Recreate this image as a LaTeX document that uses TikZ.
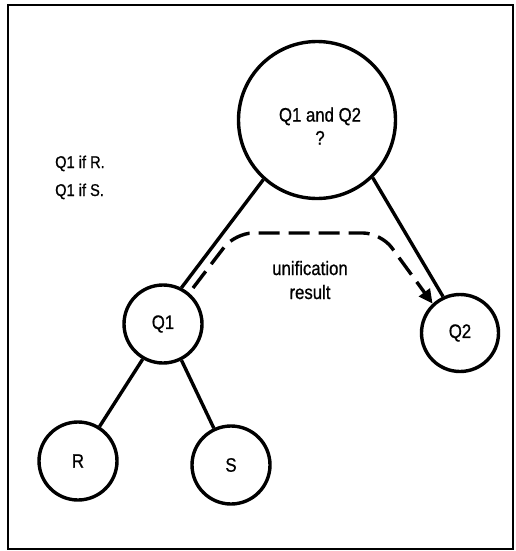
\documentclass[tikz,border=0pt]{standalone}
\usepackage{fontspec}
\setmainfont{Liberation Sans}[FakeStretch=0.86,FakeBold=0.8]
\usetikzlibrary{arrows.meta}
\begin{document}
\begin{tikzpicture}[x=1pt,y=-1pt,
  bubble/.style={circle, draw, line width=3.4pt, inner sep=0pt, minimum size=78pt,
                 font=\fontsize{19.5}{23}\selectfont},
  edge/.style={line width=3.4pt},
  flow/.style={line width=3.4pt, dash pattern=on 21pt off 9pt, rounded corners=18pt,
               -{Triangle[length=14pt,width=13pt]}},
  txt/.style={font=\fontsize{19.5}{23}\selectfont, inner sep=0pt},
  rulestyle/.style={font=\fontsize{17}{20}\selectfont, inner sep=0pt, anchor=base west}]
  \useasboundingbox (0,0) rectangle (515,551);
  % outer frame
  \draw[line width=2.4pt] (8,5) rectangle (513,549);

  % goal tree
  \node[bubble, minimum size=157pt] (top) at (317,120) {};
  \node[txt, align=center] (toptext) at (320,126) {Q1 and Q2\\?};
  \node[bubble] (q1) at (163,324) {Q1};
  \node[bubble, minimum size=77pt] (q2) at (460,333) {Q2};
  \node[bubble] (r) at (78,461) {R};
  \node[bubble] (s) at (231,465) {S};

  \draw[edge] (top.228) -- (q1.63);
  \draw[edge] (top.314) -- (q2.115);
  \draw[edge] (q1.240) -- (r.58);
  \draw[edge] (q1.297) -- (s.115);

  % clauses
  \node[rulestyle] (rule1) at (55,168) {Q1 if R.};
  \node[rulestyle] (rule2) at (55,196) {Q1 if S.};

  % passing the unification result from Q1 to Q2
  \coordinate (dstart) at (193,288);
  \coordinate (bendL) at (235,233);
  \coordinate (bendR) at (381,233);
  \draw[flow] (dstart) -- (bendL) -- (bendR) -- (q2.133);
  \node[txt, anchor=base] (uni) at (310,275) {unification};
  \node[txt, anchor=base] (res) at (310,299) {result};
\end{tikzpicture}
\end{document}
